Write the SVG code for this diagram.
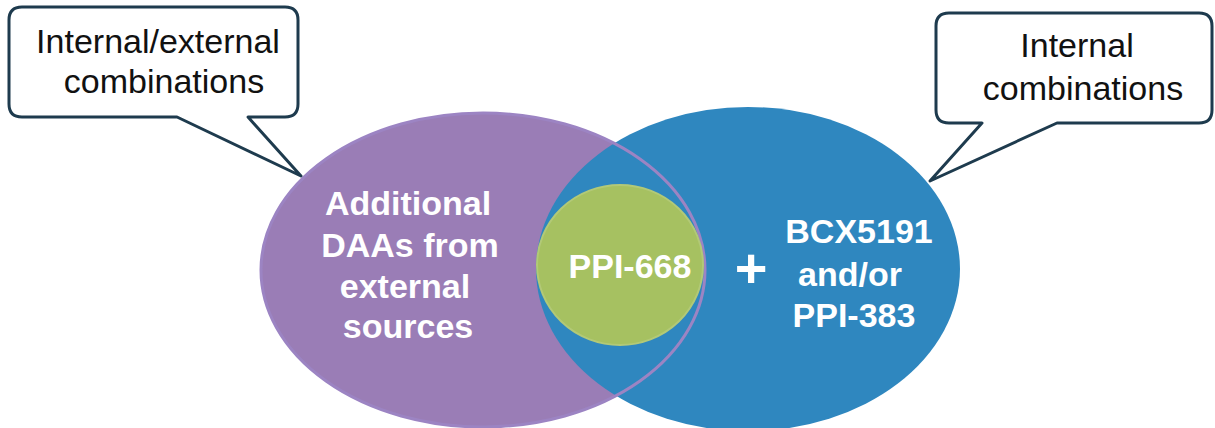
<svg xmlns="http://www.w3.org/2000/svg" width="1215" height="428" viewBox="0 0 1215 428">
<style>
.callout{fill:#ffffff;stroke:#1e3b4e;stroke-width:3;stroke-linejoin:round}
.ctext{font-family:"Liberation Sans",Arial,sans-serif;font-size:34px;fill:#111111;text-anchor:middle}
.wtext{font-family:"Liberation Sans",Arial,sans-serif;font-size:34px;font-weight:bold;fill:#ffffff;text-anchor:middle}
</style>
<rect width="1215" height="428" fill="#ffffff"/>
<g id="purple-set">
<ellipse cx="483" cy="270" rx="222" ry="157" fill="#9a7db6"/>
</g>
<g id="blue-set">
<ellipse cx="748" cy="269" rx="212" ry="162" fill="#2f87bf"/>
</g>
<g id="purple-outline">
<ellipse cx="483" cy="270" rx="222" ry="157" fill="none" stroke="#9c84c3" stroke-width="3"/>
</g>
<g id="ppi668">
<ellipse cx="620" cy="265" rx="83" ry="80" fill="#a6c161" stroke="#b2c977" stroke-width="2"/>
<text class="wtext" x="630" y="278">PPI-668</text>
</g>
<g id="left-label">
<text class="wtext" x="408" y="215">Additional</text>
<text class="wtext" x="410" y="257">DAAs from</text>
<text class="wtext" x="405" y="298">external</text>
<text class="wtext" x="408" y="338">sources</text>
</g>
<g id="plus">
<text x="751" y="287" font-family="Liberation Sans,Arial,sans-serif" font-size="56" font-weight="bold" fill="#ffffff" text-anchor="middle">+</text>
</g>
<g id="right-label">
<text class="wtext" x="859" y="243">BCX5191</text>
<text class="wtext" x="850" y="286">and/or</text>
<text class="wtext" x="854" y="327">PPI-383</text>
</g>
<g id="callout-left">
<path class="callout" d="M22,7 H285 Q298,7 298,20 V104 Q298,117 285,117 H248 L301,176 L177,117 H22 Q9,117 9,104 V20 Q9,7 22,7 Z"/>
<text class="ctext" x="158" y="53">Internal/external</text>
<text class="ctext" x="164" y="93">combinations</text>
</g>
<g id="callout-right">
<path class="callout" d="M949,13 H1199 Q1212,13 1212,26 V110 Q1212,123 1199,123 H1057 L930,181 L982,123 H949 Q936,123 936,110 V26 Q936,13 949,13 Z"/>
<text class="ctext" x="1077" y="57">Internal</text>
<text class="ctext" x="1083" y="100">combinations</text>
</g>
</svg>
